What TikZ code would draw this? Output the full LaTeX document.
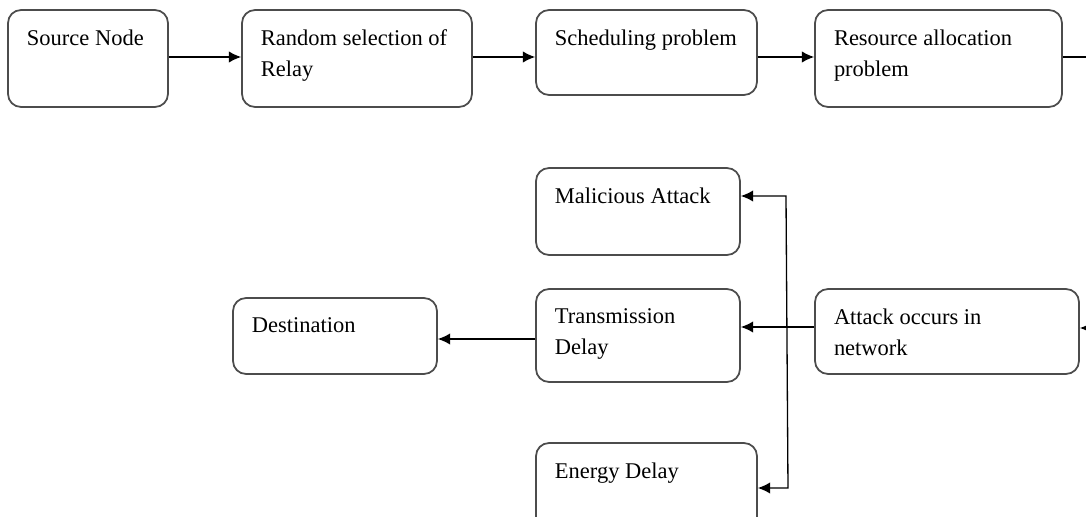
\documentclass[tikz,border=0pt]{standalone}
\usepackage{fontspec}
\setmainfont{Liberation Serif}
\usepackage{tikz}
\usetikzlibrary{arrows.meta,calc}

\tikzset{
  blk/.style={draw=black!70, line width=1pt, rounded corners=0.26cm, inner sep=0pt},
  lbl/.style={anchor=north west, align=left, inner xsep=0.39cm, inner ysep=0.4cm,
              font=\fontsize{12.8pt}{18pt}\selectfont},
  tip/.tip={Latex[length=7pt,width=6.5pt]},
  arr/.style={-tip, line width=0.75pt}
}

\begin{document}
\begin{tikzpicture}[x=0.02cm, y=-0.02cm]
 \useasboundingbox (0,0) rectangle (1086,517);
 \clip (0,0) rectangle (1086,517);
 % top row
 \node[blk, minimum width=3.2cm, minimum height=1.94cm, label={[lbl]north west:Source Node}] (src) at (88,58.5) {};
 \node[blk, minimum width=4.6cm, minimum height=1.94cm, label={[lbl]north west:Random selection of\\Relay}] (rnd) at (357,58.5) {};
 \node[blk, minimum width=4.42cm, minimum height=1.7cm, label={[lbl]north west:Scheduling problem}] (sch) at (646.5,52.5) {};
 \node[blk, minimum width=4.94cm, minimum height=1.94cm, label={[lbl]north west:Resource allocation\\problem}] (res) at (938.5,58.5) {};
 % lower part
 \node[blk, minimum width=4.08cm, minimum height=1.74cm, label={[lbl]north west:Malicious  Attack}] (mal) at (638,211.5) {};
 \node[blk, minimum width=4.08cm, minimum height=1.86cm, label={[lbl]north west:Transmission\\Delay}] (trn) at (638,335.5) {};
 \node[blk, minimum width=5.28cm, minimum height=1.7cm, label={[lbl]north west:Attack occurs in\\network}] (att) at (947,331.5) {};
 \node[blk, minimum width=4.08cm, minimum height=1.52cm, label={[lbl]north west:Destination}] (dst) at (335,336) {};
 \node[blk, minimum width=4.42cm, minimum height=1.74cm, label={[lbl]north west:Energy Delay}] (eng) at (646.5,486.5) {};
 \coordinate (jt) at (786,196);
 \coordinate (jb) at (788,488);
 % connectors
 \draw[arr] (src.east |- 0,57) -- (rnd.west |- 0,57);
 \draw[arr] (rnd.east |- 0,57) -- (sch.west |- 0,57);
 \draw[arr] (sch.east |- 0,57) -- (res.west |- 0,57);
 \draw[arr] (res.east |- 0,57) -- ++(60,0) |- (att.east |- 0,328);
 \draw[arr] (att.west |- 0,327) -- (trn.east |- 0,327);
 \draw[arr] (trn.west |- 0,339) -- (dst.east |- 0,339);
 \draw[arr, tip-tip] (jt -| mal.east) -- (jt) -- (jb) -- (jb -| eng.east);
\end{tikzpicture}
\end{document}
